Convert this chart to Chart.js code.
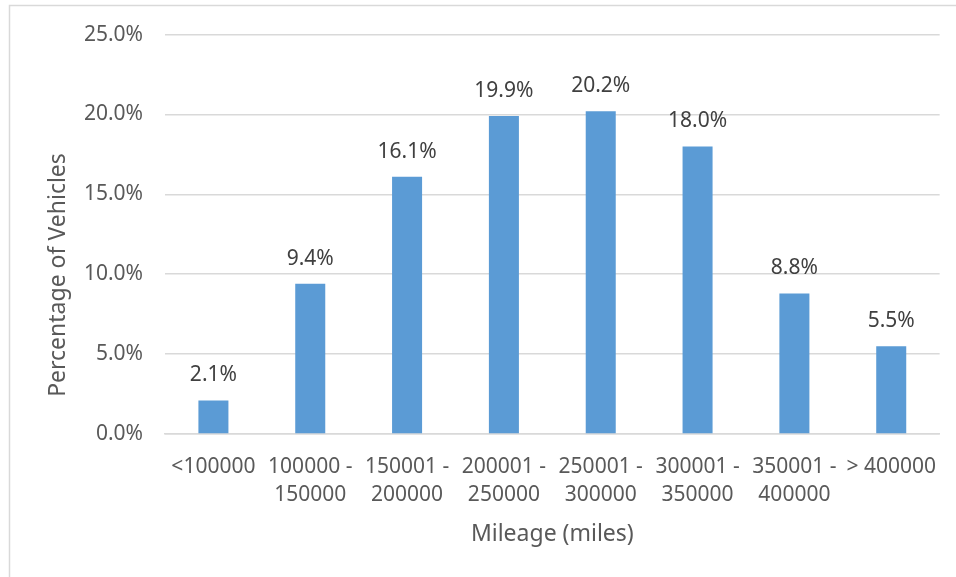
<!DOCTYPE html>
<html>
<head>
<meta charset="utf-8">
<script src="https://cdn.jsdelivr.net/npm/chart.js@4.4.1/dist/chart.umd.min.js"></script>
<style>
  html, body { margin: 0; padding: 0; background: #ffffff; }
  #wrap { position: relative; width: 956px; height: 577px; }
</style>
</head>
<body>
<div id="wrap"><canvas id="c" width="956" height="577"></canvas></div>
<script>
const categories = [
  '<100000',
  ['100000 -', '150000'],
  ['150001 -', '200000'],
  ['200001 -', '250000'],
  ['250001 -', '300000'],
  ['300001 -', '350000'],
  ['350001 -', '400000'],
  '> 400000'
];
const percentValues = [2.1, 9.4, 16.1, 19.9, 20.2, 18.0, 8.8, 5.5];
const yTitle = 'Percentage of Vehicles';
const xTitle = 'Mileage (miles)';

const FONT = '"Noto Sans", "Open Sans", sans-serif';

const frameAndTitles = {
  id: 'frameAndTitles',
  beforeDraw(chart) {
    const ctx = chart.ctx;
    ctx.save();
    ctx.strokeStyle = '#d9d9d9';
    ctx.lineWidth = 1.5;
    ctx.strokeRect(9.5, 5.5, 2000, 2000);
    ctx.restore();
  },
  afterDraw(chart) {
    const ctx = chart.ctx;
    const a = chart.chartArea;
    ctx.save();
    ctx.fillStyle = '#595959';
    ctx.font = '23px ' + FONT;
    ctx.textAlign = 'center';
    ctx.textBaseline = 'middle';
    ctx.fillText(xTitle, (a.left + a.right) / 2, 534);
    ctx.translate(58, 275);
    ctx.rotate(-Math.PI / 2);
    ctx.fillText(yTitle, 0, 0);
    ctx.restore();
  },
  afterDatasetsDraw(chart) {
    const ctx = chart.ctx;
    const meta = chart.getDatasetMeta(0);
    ctx.save();
    ctx.fillStyle = '#404040';
    ctx.font = '21px ' + FONT;
    ctx.textAlign = 'center';
    ctx.textBaseline = 'middle';
    meta.data.forEach((bar, i) => {
      ctx.fillText(percentValues[i].toFixed(1) + '%', bar.x, bar.y - 25);
    });
    ctx.restore();
  }
};

new Chart(document.getElementById('c'), {
  type: 'bar',
  data: {
    labels: categories,
    datasets: [{
      data: percentValues,
      backgroundColor: '#5b9bd5',
      borderWidth: 0,
      categoryPercentage: 1.0,
      barPercentage: 0.31
    }]
  },
  options: {
    responsive: false,
    animation: false,
    devicePixelRatio: 1,
    layout: { padding: { top: 34, right: 16, left: 0, bottom: 0 } },
    plugins: {
      legend: { display: false },
      tooltip: { enabled: false }
    },
    scales: {
      x: {
        grid: { display: false, drawTicks: false },
        border: { display: true, color: '#d9d9d9', width: 1.5 },
        ticks: {
          color: '#595959',
          font: { family: FONT, size: 21, lineHeight: 1.33 },
          padding: 19,
          maxRotation: 0,
          autoSkip: false
        },
        afterFit(scale) { scale.height = 143; }
      },
      y: {
        min: 0,
        max: 25,
        grid: { color: '#d9d9d9', lineWidth: 1.5, drawTicks: false },
        border: { display: false },
        ticks: {
          stepSize: 5,
          color: '#595959',
          font: { family: FONT, size: 21 },
          padding: 22,
          callback: v => v.toFixed(1) + '%'
        },
        afterFit(scale) { scale.width = 165; }
      }
    }
  },
  plugins: [frameAndTitles]
});
</script>
</body>
</html>
